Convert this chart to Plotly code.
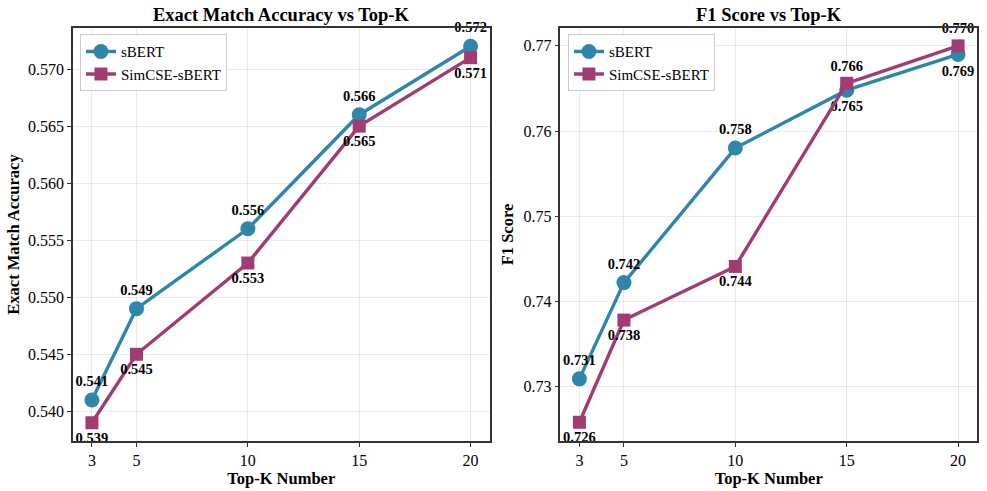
import plotly.graph_objects as go
from plotly.subplots import make_subplots

top_k = [3, 5, 10, 15, 20]
em_sbert = [0.541, 0.549, 0.556, 0.566, 0.572]
em_simcse = [0.539, 0.545, 0.553, 0.565, 0.571]
f1_sbert = [0.7309, 0.7422, 0.758, 0.7648, 0.769]
f1_simcse = [0.7258, 0.7378, 0.7441, 0.7656, 0.770]
em_ticks = [0.540, 0.545, 0.550, 0.555, 0.560, 0.565, 0.570]
f1_ticks = [0.73, 0.74, 0.75, 0.76, 0.77]

C1 = "#2E86AB"
C2 = "#A23B72"
FONT = "Liberation Serif"

fig = make_subplots(rows=1, cols=2, horizontal_spacing=0.0785,
                    subplot_titles=["<b>Exact Match Accuracy vs Top-K</b>", "<b>F1 Score vs Top-K</b>"])

def add(col, ys, name, color, symbol, pos, legend, size):
    fig.add_trace(go.Scatter(
        x=top_k, y=ys, name=name, mode="lines+markers+text",
        line=dict(color=color, width=3.4),
        marker=dict(color=color, symbol=symbol, size=size),
        text=[f"<b>{v:.3f}</b>" for v in ys], textposition=pos,
        textfont=dict(family=FONT, size=14.5, color="black"),
        legend=legend, cliponaxis=False), row=1, col=col)

add(1, em_sbert, "sBERT", C1, "circle", "top center", "legend", 15)
add(1, em_simcse, "SimCSE-sBERT", C2, "square", "bottom center", "legend", 13)
add(2, f1_sbert, "sBERT", C1, "circle", ["top center", "top center", "top center", "bottom center", "bottom center"], "legend2", 15)
add(2, f1_simcse, "SimCSE-sBERT", C2, "square", ["bottom center", "bottom center", "bottom center", "top center", "top center"], "legend2", 13)

ax = dict(showline=True, linecolor="#333", linewidth=1.5, mirror=True,
          ticks="outside", ticklen=4, tickcolor="#333", automargin=False,
          showgrid=True, gridcolor="rgba(0,0,0,0.08)", zeroline=False,
          tickfont=dict(family=FONT, size=16, color="black"))

TF = dict(family=FONT, size=16.5, color="black")
for c in (1, 2):
    fig.update_xaxes(ax, tickvals=top_k, range=[2.15, 20.85],
                     title=dict(text="<b>Top-K Number</b>", font=TF, standoff=0),
                     row=1, col=c)
fig.update_yaxes(ax, tickvals=em_ticks, ticktext=[f"{t:.3f}" for t in em_ticks], range=[0.5374, 0.5736],
                 title=dict(text="<b>Exact Match Accuracy</b>", font=TF, standoff=4),
                 row=1, col=1)
fig.update_yaxes(ax, tickvals=f1_ticks, ticktext=[f"{t:.2f}" for t in f1_ticks], range=[0.7236, 0.7721],
                 title=dict(text="<b>F1 Score</b>", font=TF, standoff=6),
                 row=1, col=2)

for a in fig.layout.annotations:
    a.font = dict(family=FONT, size=18.5, color="black")
    a.yshift = 1

leg = dict(x=0.0077, y=0.985, xanchor="left", yanchor="top",
           bgcolor="rgba(255,255,255,0.9)", bordercolor="#ccc", borderwidth=1,
           font=dict(family=FONT, size=15, color="black"), itemwidth=30,
           tracegroupgap=0)
fig.update_layout(
    width=987, height=491, plot_bgcolor="white", paper_bgcolor="white",
    margin=dict(l=73, r=10, t=28, b=50, autoexpand=False),
    legend=leg,
    legend2=dict(leg, x=0.5398 + 0.0077),
)
fig.write_html("out.html", config={"displayModeBar": False},
               post_script="document.body.style.margin='0';")
